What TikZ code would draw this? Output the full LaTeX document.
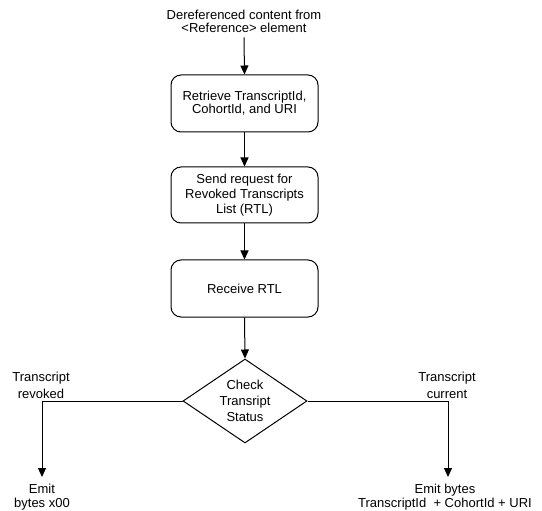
\documentclass[tikz,border=0pt]{standalone}
\usepackage{fontspec}
\setmainfont{Liberation Sans}
\usetikzlibrary{shapes.geometric,arrows.meta}
\begin{document}
\begin{tikzpicture}[x=1pt,y=-1pt,
  every node/.style={font=\fontsize{13}{15}\selectfont, align=center},
  box/.style={draw, rounded corners=10pt, minimum width=147pt, minimum height=57pt, inner sep=0pt},
  dec/.style={draw, diamond, minimum width=124pt, minimum height=84pt, inner sep=0pt, aspect=1.476},
  endtext/.style={anchor=north, inner xsep=0pt, inner ysep=7pt},
  arr/.style={-{Triangle[width=8pt,length=9pt]}},
  line width=1pt]
\useasboundingbox (0,0) rectangle (542,511);
\node[font=\fontsize{13}{13}\selectfont, inner sep=4pt] (src) at (244,21.5) {Dereferenced content from\\<Reference> element};
\node[box, font=\fontsize{13}{13}\selectfont] (b1) at (244.5,103.5) {Retrieve TranscriptId,\\CohortId, and URI};
\node[box, minimum height=56pt] (b2) at (244.5,195) {Send request for\\Revoked Transcripts\\List (RTL)};
\node[box] (b3) at (244.5,288.5) {Receive RTL};
\node[dec, font=\fontsize{13}{16}\selectfont] (d) at (245,401) {Check\\Transript\\Status};
\node[font=\fontsize{13}{17}\selectfont] (lrev) at (41,385.5) {Transcript\\revoked};
\node[font=\fontsize{13}{17}\selectfont] (lcur) at (447,385.5) {Transcript\\current};
\node[endtext, font=\fontsize{13}{13.5}\selectfont] (eL) at (42,477) {Emit\\bytes x00};
\node[endtext, font=\fontsize{13}{13.5}\selectfont] (eR) at (445,477) {Emit bytes\\TranscriptId \ + CohortId + URI};
\draw[arr] (src.south) -- (b1.north);
\draw[arr] (b1) -- (b2);
\draw[arr] (b2) -- (b3);
\draw[arr] (b3.south) -- (d.north);
\draw[arr] (d.west) -| (eL.north);
\draw[arr] (d.east) -| ([xshift=3pt]eR.north);
\end{tikzpicture}
\end{document}
